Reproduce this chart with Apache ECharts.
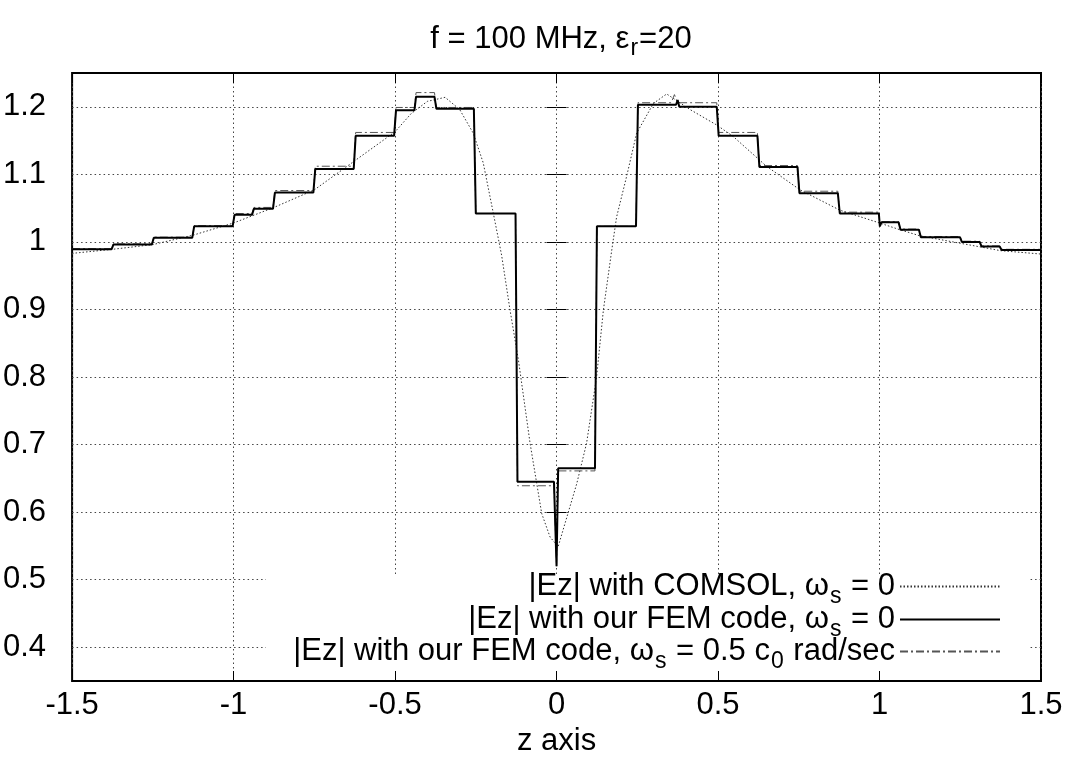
<!DOCTYPE html>
<html>
<head>
<meta charset="utf-8">
<title>Ez along z axis</title>
<script src="https://cdn.jsdelivr.net/npm/echarts@6/dist/echarts.min.js"></script>
<style>
  html, body { margin: 0; padding: 0; background: #fff; }
  #chart { width: 1071px; height: 773px; }
</style>
</head>
<body>
<div id="chart"></div>
<script>
// tick labels
const xTicks = [-1.5, -1, -0.5, 0, 0.5, 1, 1.5];
const yTicks = [0.4, 0.5, 0.6, 0.7, 0.8, 0.9, 1, 1.1, 1.2];

// |Ez| with COMSOL, ws = 0  (z, |Ez|)
const comsol = [
  [-1.5, 0.983], [-1.375, 0.989], [-1.25, 0.996], [-1.125, 1.010], [-1.0, 1.028],
  [-0.875, 1.051], [-0.75, 1.077], [-0.625, 1.12], [-0.5, 1.163], [-0.45, 1.19],
  [-0.4, 1.208], [-0.345, 1.214], [-0.3, 1.196], [-0.258, 1.161], [-0.227, 1.117],
  [-0.196, 1.043], [-0.17, 0.98], [-0.144, 0.899], [-0.118, 0.825], [-0.082, 0.702],
  [-0.046, 0.598], [-0.02, 0.563], [0.005, 0.549], [0.0625, 0.642], [0.093, 0.702],
  [0.124, 0.80], [0.145, 0.899], [0.171, 0.988], [0.186, 1.037], [0.217, 1.097],
  [0.248, 1.161], [0.30, 1.205], [0.341, 1.219], [0.413, 1.196], [0.496, 1.173],
  [0.547, 1.156], [0.65, 1.112], [0.754, 1.077], [0.877, 1.047], [1.0, 1.028],
  [1.063, 1.018], [1.125, 1.009], [1.25, 0.998], [1.375, 0.987], [1.5, 0.982]
];

// |Ez| with our FEM code, ws = 0
const femZero = [
  [-1.5, 0.989], [-1.378, 0.989], [-1.372, 0.996], [-1.253, 0.996], [-1.247, 1.006],
  [-1.128, 1.006], [-1.122, 1.023], [-1.003, 1.023], [-0.997, 1.040], [-0.943, 1.040],
  [-0.937, 1.049], [-0.878, 1.049], [-0.872, 1.073], [-0.753, 1.073], [-0.747, 1.108],
  [-0.628, 1.108], [-0.622, 1.157], [-0.503, 1.157], [-0.497, 1.195], [-0.44, 1.195],
  [-0.435, 1.215], [-0.378, 1.215], [-0.372, 1.197], [-0.256, 1.197], [-0.25, 1.042],
  [-0.127, 1.042], [-0.121, 0.645], [-0.008, 0.645], [0, 0.52], [0.005, 0.665],
  [0.119, 0.665], [0.125, 1.023], [0.246, 1.023], [0.252, 1.203], [0.37, 1.203],
  [0.375, 1.21], [0.38, 1.2], [0.496, 1.2], [0.502, 1.157], [0.622, 1.157],
  [0.628, 1.111], [0.746, 1.111], [0.752, 1.072], [0.871, 1.072], [0.877, 1.042],
  [0.998, 1.042], [1.001, 1.023], [1.006, 1.029], [1.059, 1.029], [1.065, 1.018],
  [1.122, 1.018], [1.128, 1.007], [1.249, 1.007], [1.255, 1.0], [1.31, 1.0],
  [1.316, 0.993], [1.372, 0.993], [1.378, 0.988], [1.5, 0.988]
];

// |Ez| with our FEM code, ws = 0.5 c0 rad/sec
const femHalf = [
  [-1.5, 0.99], [-1.378, 0.99], [-1.372, 0.997], [-1.253, 0.997], [-1.247, 1.007],
  [-1.128, 1.007], [-1.122, 1.024], [-1.003, 1.024], [-0.997, 1.042], [-0.943, 1.042],
  [-0.937, 1.051], [-0.878, 1.051], [-0.872, 1.076], [-0.753, 1.076], [-0.747, 1.112],
  [-0.628, 1.112], [-0.622, 1.162], [-0.503, 1.162], [-0.497, 1.199], [-0.44, 1.199],
  [-0.435, 1.221], [-0.378, 1.221], [-0.372, 1.199], [-0.256, 1.199], [-0.25, 1.042],
  [-0.127, 1.042], [-0.121, 0.639], [-0.008, 0.639], [0, 0.52], [0.005, 0.661],
  [0.119, 0.661], [0.125, 1.023], [0.246, 1.023], [0.252, 1.206], [0.355, 1.206],
  [0.365, 1.218], [0.375, 1.206], [0.496, 1.206], [0.502, 1.162], [0.622, 1.162],
  [0.628, 1.113], [0.746, 1.113], [0.752, 1.075], [0.871, 1.075], [0.877, 1.044],
  [0.998, 1.044], [1.001, 1.024], [1.006, 1.03], [1.059, 1.03], [1.065, 1.019],
  [1.122, 1.019], [1.128, 1.008], [1.249, 1.008], [1.255, 1.001], [1.31, 1.001],
  [1.316, 0.994], [1.372, 0.994], [1.378, 0.989], [1.5, 0.989]
];

const seriesNames = ['comsol', 'femZero', 'femHalf'];
const legendText = {
  comsol: '{a||Ez| with COMSOL, ω}{sub|s}{a| = 0}',
  femZero: '{a||Ez| with our FEM code, ω}{sub|s}{a| = 0}',
  femHalf: '{a||Ez| with our FEM code, ω}{sub|s}{a| = 0.5 c}{sub|0}{a| rad/sec}',
};

const FONT = 'Liberation Sans, Arial, sans-serif';
const FS = 31;
// subscript pushed down with top padding
const richText = {
  a: { fontFamily: FONT, fontSize: FS, fontWeight: 'normal', lineHeight: 32, color: '#000' },
  sub: { fontFamily: FONT, fontSize: 23, fontWeight: 'normal', lineHeight: 22, padding: [20, 1, 0, 1], color: '#000' },
};

const chart = echarts.init(document.getElementById('chart'));

const gridDots = { show: true, lineStyle: { color: '#444', width: 1, type: [1.5, 3] } };

// one legend per row so that the line samples line up on the right
const legendTops = [565, 598, 630];
const legends = seriesNames.map((name, i) => ({
  data: [name],
  right: 70,
  top: legendTops[i],
  padding: 0,
  align: 'right',
  itemWidth: 100,
  itemHeight: 14,
  selectedMode: false,
  itemStyle: { color: 'transparent', borderColor: 'transparent', borderWidth: 0 },
  formatter: (n) => legendText[n],
  textStyle: { rich: richText },
}));

const option = {
  animation: false,
  backgroundColor: '#fff',
  title: {
    text: '{a|f = 100 MHz, ε}{sub|r}{a|=20}',
    left: 556,
    top: 18,
    textAlign: 'center',
    textStyle: { fontWeight: 'normal', rich: richText },
  },
  grid: {
    left: 72,
    right: 30,
    top: 73,
    bottom: 92,
    show: true,
    borderColor: '#000',
    borderWidth: 2,
  },
  legend: legends,
  // opaque key box
  graphic: [{
    type: 'rect',
    z: 1,
    shape: { x: 266, y: 576, width: 762, height: 94 },
    style: { fill: '#fff' },
  }],
  xAxis: [
    {
      type: 'value',
      min: -1.5,
      max: 1.5,
      interval: 0.5,
      name: 'z axis',
      nameLocation: 'middle',
      nameGap: 45,
      nameTextStyle: { fontFamily: FONT, fontSize: FS, color: '#000' },
      axisLine: { show: false },
      axisTick: { inside: true, length: 10, lineStyle: { color: '#000', width: 1 } },
      axisLabel: { fontFamily: FONT, fontSize: FS, color: '#000', margin: 9 },
      splitLine: gridDots,
    },
    {
      type: 'value',
      position: 'top',
      min: -1.5,
      max: 1.5,
      interval: 0.5,
      axisLine: { show: false },
      axisTick: { inside: true, length: 10, lineStyle: { color: '#000', width: 1 } },
      axisLabel: { show: false },
      splitLine: { show: false },
    },
  ],
  yAxis: [
    {
      type: 'value',
      min: 0.35,
      max: 1.25,
      axisLine: { show: false },
      axisTick: { inside: true, length: 10, customValues: yTicks, lineStyle: { color: '#000', width: 1 } },
      axisLabel: { fontFamily: FONT, fontSize: FS, color: '#000', margin: 26, customValues: yTicks },
      splitLine: gridDots,
    },
    {
      type: 'value',
      position: 'right',
      min: 0.35,
      max: 1.25,
      axisLine: { show: false },
      axisTick: { inside: true, length: 10, customValues: yTicks, lineStyle: { color: '#000', width: 1 } },
      axisLabel: { show: false, customValues: yTicks },
      splitLine: { show: false },
    },
  ],
  series: [
    {
      name: 'comsol',
      type: 'line',
      data: comsol,
      symbol: 'none',
      z: 3,
      lineStyle: { color: '#333', width: 1, type: [1.5, 2] },
    },
    {
      name: 'femZero',
      type: 'line',
      data: femZero,
      symbol: 'none',
      z: 4,
      lineStyle: { color: '#000', width: 2 },
    },
    {
      name: 'femHalf',
      type: 'line',
      data: femHalf,
      symbol: 'none',
      z: 3,
      lineStyle: { color: '#555', width: 1, type: [8, 3, 2, 3] },
    },
  ],
};

chart.setOption(option);
</script>
</body>
</html>
